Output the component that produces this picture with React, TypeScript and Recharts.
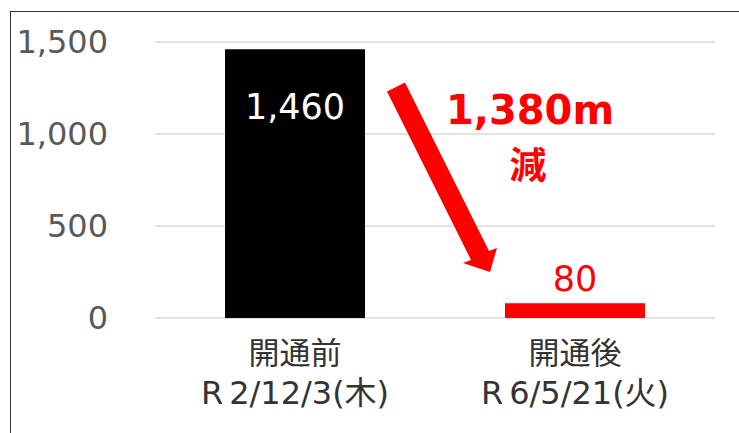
import React from "react";
import { BarChart, Bar, XAxis, YAxis, CartesianGrid, Cell, LabelList } from "recharts";

const CATEGORIES = ["開通前", "開通後"];
const DATE_ERA = ["R", "R"];
const DATES = ["2/12/3(木)", "6/5/21(火)"];
const VALUES = [1460, 80];
const BAR_COLORS = ["#000000", "#ff0000"];
const Y_TICKS = [0, 500, 1000, 1500];
const DIFF_LABEL = "1,380m";
const DIFF_SUFFIX = "減";

const FONT = '"DejaVu Sans", "Noto Sans CJK JP", sans-serif';
const CJK_FONT = '"Noto Sans CJK JP", sans-serif';

const data = CATEGORIES.map((name, i) => ({ name, date: DATES[i], value: VALUES[i] }));

// two-line category label: name + date
const CategoryTick = (props: any) => {
    const { x, y, payload, index } = props;
    return (
        <g>
            <text x={x} y={y + 32} textAnchor="middle" dominantBaseline="central" fill="#333333" fontSize={31} fontFamily={CJK_FONT}>
                {payload.value}
            </text>
            <text x={x} y={y + 75} textAnchor="middle" dominantBaseline="central" fill="#333333" fontSize={32} fontFamily={FONT}>
                <tspan>{DATE_ERA[index]}</tspan>
                <tspan dx={6}>{DATES[index]}</tspan>
            </text>
        </g>
    );
};

const BarValueLabel = (props: any) => {
    const { x, y, width, value, index } = props;
    const cx = x + width / 2;
    const inside = index === 0;
    return (
        <text
            x={cx}
            y={inside ? y + 58 : y - 24}
            textAnchor="middle"
            dominantBaseline="central"
            fill={inside ? "#ffffff" : "#ff0000"}
            fontSize={35}
            fontFamily={FONT}
        >
            {value.toLocaleString()}
        </text>
    );
};

export default function App() {
    return (
        <div style={{ position: "absolute", left: 0, top: 0, width: 739, height: 433, background: "#fff", overflow: "hidden" }}>
            <div style={{ position: "absolute", left: 10, top: 11, width: 800, height: 500, borderTop: "1px solid #333", borderLeft: "1px solid #333" }} />
            <BarChart
                width={739}
                height={433}
                data={data}
                margin={{ top: 42, right: 24, bottom: 0, left: 0 }}
                barCategoryGap="25%"
            >
                <CartesianGrid vertical={false} stroke="#d9d9d9" strokeWidth={1.5} />
                <YAxis
                    domain={[0, 1500]}
                    ticks={Y_TICKS}
                    width={155}
                    axisLine={false}
                    tickLine={false}
                    tickSize={0}
                    tickMargin={47}
                    tickFormatter={(v: number) => v.toLocaleString()}
                    tick={{ fill: "#595959", fontSize: 32, fontFamily: FONT }}
                />
                <XAxis
                    dataKey="name"
                    height={115}
                    axisLine={false}
                    tickLine={false}
                    tickSize={0}
                    tickMargin={0}
                    tick={<CategoryTick />}
                    interval={0}
                />
                <Bar dataKey="value" isAnimationActive={false}>
                    {data.map((d, i) => (
                        <Cell key={d.name} fill={BAR_COLORS[i]} />
                    ))}
                    <LabelList dataKey="value" content={<BarValueLabel />} />
                </Bar>
            </BarChart>
            <svg width={739} height={433} style={{ position: "absolute", left: 0, top: 0, pointerEvents: "none" }}>
                <polygon points="387,91.5 405,82.5 489,251 497,248 490,272 463,263 471,260" fill="#ff0000" />
                <text x={530} y={110} textAnchor="middle" dominantBaseline="central" fill="#ff0000" fontSize={40} fontWeight="bold" fontFamily={FONT}>
                    {DIFF_LABEL}
                </text>
                <text x={528} y={163} textAnchor="middle" dominantBaseline="central" fill="#ff0000" fontSize={37} fontWeight="bold" fontFamily={CJK_FONT}>
                    {DIFF_SUFFIX}
                </text>
            </svg>
        </div>
    );
}
